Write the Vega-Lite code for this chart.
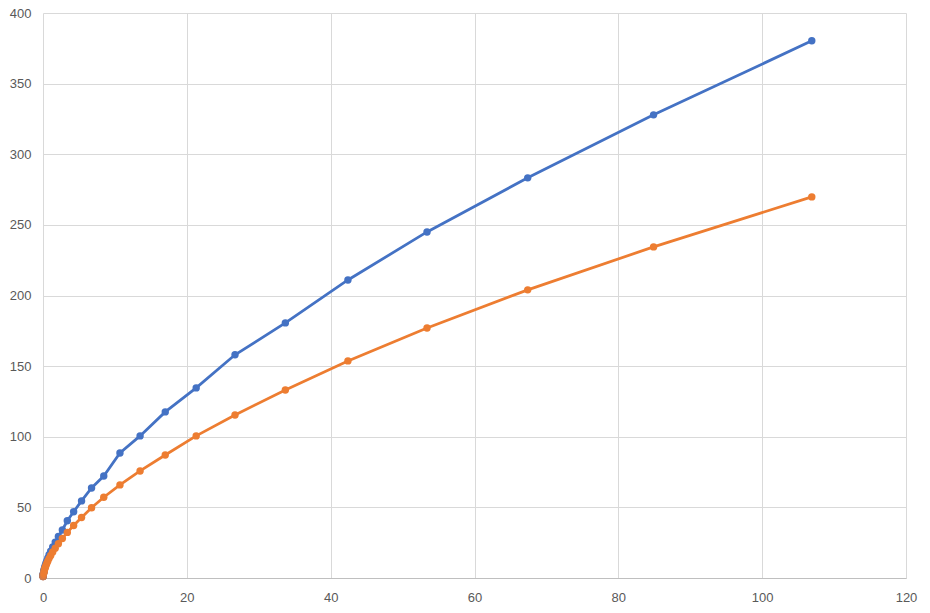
{
  "$schema": "https://vega.github.io/schema/vega-lite/v6.json",
  "width": 863,
  "height": 565,
  "autosize": "none",
  "padding": {"left": 43, "top": 13, "right": 24, "bottom": 35},
  "background": "white",
  "config": {"view": {"stroke": null}},
  "data": {"values": [
    {"x": 106.9, "s": "A", "y": 380.3}, {"x": 84.9, "s": "A", "y": 327.9}, {"x": 67.4, "s": "A", "y": 283.3},
    {"x": 53.4, "s": "A", "y": 245.0}, {"x": 42.4, "s": "A", "y": 211.0}, {"x": 33.7, "s": "A", "y": 180.6},
    {"x": 26.7, "s": "A", "y": 158.0}, {"x": 21.3, "s": "A", "y": 134.6}, {"x": 17.0, "s": "A", "y": 117.6},
    {"x": 13.5, "s": "A", "y": 100.6}, {"x": 10.7, "s": "A", "y": 88.5}, {"x": 8.45, "s": "A", "y": 72.2},
    {"x": 6.75, "s": "A", "y": 63.7}, {"x": 5.36, "s": "A", "y": 54.6}, {"x": 4.26, "s": "A", "y": 46.9},
    {"x": 3.38, "s": "A", "y": 40.5}, {"x": 2.69, "s": "A", "y": 34.0}, {"x": 2.14, "s": "A", "y": 29.4},
    {"x": 1.70, "s": "A", "y": 25.4}, {"x": 1.35, "s": "A", "y": 22.0}, {"x": 1.07, "s": "A", "y": 19.0},
    {"x": 0.85, "s": "A", "y": 16.5}, {"x": 0.675, "s": "A", "y": 14.2}, {"x": 0.536, "s": "A", "y": 12.3},
    {"x": 0.426, "s": "A", "y": 10.6}, {"x": 0.338, "s": "A", "y": 9.2}, {"x": 0.269, "s": "A", "y": 8.0},
    {"x": 0.214, "s": "A", "y": 6.9}, {"x": 0.170, "s": "A", "y": 6.0}, {"x": 0.135, "s": "A", "y": 5.2},
    {"x": 0.107, "s": "A", "y": 4.5}, {"x": 0.085, "s": "A", "y": 3.9}, {"x": 0.0675, "s": "A", "y": 3.3},
    {"x": 0.0536, "s": "A", "y": 2.9}, {"x": 0.0426, "s": "A", "y": 2.5}, {"x": 0.0338, "s": "A", "y": 2.2},
    {"x": 0.0269, "s": "A", "y": 1.9}, {"x": 0.0214, "s": "A", "y": 1.6}, {"x": 0.017, "s": "A", "y": 1.4},
    {"x": 0.0135, "s": "A", "y": 1.2}, {"x": 0.0107, "s": "A", "y": 1.0},
    {"x": 106.9, "s": "B", "y": 269.8}, {"x": 84.9, "s": "B", "y": 234.4}, {"x": 67.4, "s": "B", "y": 204.0},
    {"x": 53.4, "s": "B", "y": 177.0}, {"x": 42.4, "s": "B", "y": 153.7}, {"x": 33.7, "s": "B", "y": 133.1},
    {"x": 26.7, "s": "B", "y": 115.4}, {"x": 21.3, "s": "B", "y": 100.6}, {"x": 17.0, "s": "B", "y": 87.1},
    {"x": 13.5, "s": "B", "y": 75.8}, {"x": 10.7, "s": "B", "y": 65.9}, {"x": 8.45, "s": "B", "y": 57.2},
    {"x": 6.75, "s": "B", "y": 49.7}, {"x": 5.36, "s": "B", "y": 42.8}, {"x": 4.26, "s": "B", "y": 37.2},
    {"x": 3.38, "s": "B", "y": 32.3}, {"x": 2.69, "s": "B", "y": 28.0}, {"x": 2.14, "s": "B", "y": 24.3},
    {"x": 1.70, "s": "B", "y": 21.1}, {"x": 1.35, "s": "B", "y": 18.4}, {"x": 1.07, "s": "B", "y": 16.0},
    {"x": 0.85, "s": "B", "y": 13.9}, {"x": 0.675, "s": "B", "y": 12.1}, {"x": 0.536, "s": "B", "y": 10.5},
    {"x": 0.426, "s": "B", "y": 9.1}, {"x": 0.338, "s": "B", "y": 7.9}, {"x": 0.269, "s": "B", "y": 6.9},
    {"x": 0.214, "s": "B", "y": 6.0}, {"x": 0.170, "s": "B", "y": 5.2}, {"x": 0.135, "s": "B", "y": 4.5},
    {"x": 0.107, "s": "B", "y": 3.9}, {"x": 0.085, "s": "B", "y": 3.4}, {"x": 0.0675, "s": "B", "y": 3.0},
    {"x": 0.0536, "s": "B", "y": 2.6}, {"x": 0.0426, "s": "B", "y": 2.2}, {"x": 0.0338, "s": "B", "y": 1.9},
    {"x": 0.0269, "s": "B", "y": 1.7}, {"x": 0.0214, "s": "B", "y": 1.5}, {"x": 0.017, "s": "B", "y": 1.3},
    {"x": 0.0135, "s": "B", "y": 1.1}, {"x": 0.0107, "s": "B", "y": 1.0}
  ]},
  "encoding": {
    "x": {
      "field": "x", "type": "quantitative",
      "scale": {"domain": [0, 120], "nice": false, "zero": true},
      "axis": {
        "title": null, "values": [0, 20, 40, 60, 80, 100, 120],
        "grid": true, "gridColor": "#D9D9D9", "gridWidth": 1,
        "domain": true, "domainColor": "#BFBFBF", "domainWidth": 1,
        "ticks": false, "labelPadding": 13, "labelFlush": false,
        "labelFont": "Liberation Sans", "labelFontSize": 13, "labelColor": "#595959"
      }
    },
    "y": {
      "field": "y", "type": "quantitative",
      "scale": {"domain": [0, 400], "nice": false},
      "axis": {
        "title": null, "values": [0, 50, 100, 150, 200, 250, 300, 350, 400],
        "grid": true, "gridColor": "#D9D9D9", "gridWidth": 1,
        "domain": false, "ticks": false, "labelPadding": 12, "labelFlush": false,
        "labelFont": "Liberation Sans", "labelFontSize": 13, "labelColor": "#595959"
      }
    },
    "color": {
      "field": "s", "type": "nominal",
      "scale": {"domain": ["A", "B"], "range": ["#4472C4", "#ED7D31"]},
      "legend": null
    },
    "order": {"field": "x", "type": "quantitative"}
  },
  "mark": {"type": "line", "strokeWidth": 2.75, "point": {"filled": true, "size": 55, "opacity": 1}}
}
